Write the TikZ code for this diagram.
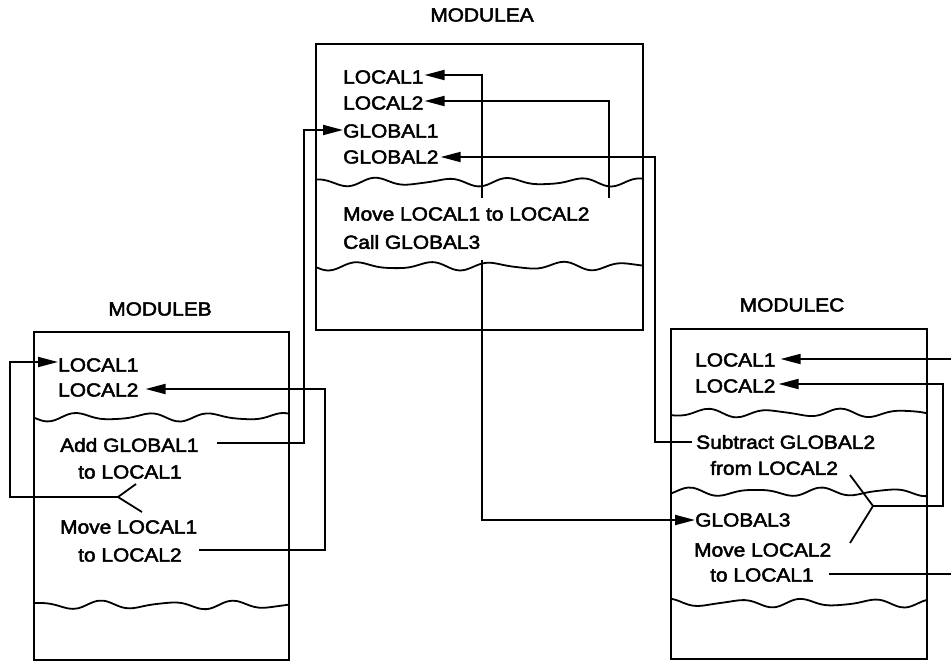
\documentclass[tikz,border=0pt]{standalone}
\usepackage{fontspec}
\setmainfont{Liberation Sans}[FakeStretch=1.1,FakeBold=2.5]
\usetikzlibrary{arrows.meta}
\tikzset{
  lbl/.style={anchor=west,inner sep=0pt,font=\fontsize{19}{22}\selectfont},
  ttl/.style={inner sep=0pt,font=\fontsize{19}{22}\selectfont},
  modbox/.style={draw,line width=1.8pt},
  wavyln/.style={line width=1.8pt},
  conn/.style={line width=1.8pt},
  arr/.style={conn,-{Triangle[length=20pt,width=10pt]}}
}
\newcommand\wavyrow[4]{\draw[wavyln] plot[smooth,domain=#1:#2,samples=60] (\x,{#3+3.3*sin(5.4*\x+#4)+1.2*sin(8.3*\x+2*#4)});}
\begin{document}
\begin{tikzpicture}[x=1pt,y=-1pt]
\useasboundingbox (0,0) rectangle (951,662);
% ---------------- MODULEA ----------------
\node[ttl] (tA) at (482,15) {MODULEA};
\draw[modbox] (316,44) rectangle (643,330);
\wavyrow{316}{643}{182}{30}
\wavyrow{316}{643}{266}{120}
\node[lbl] (a1) at (343,77) {LOCAL1};
\node[lbl] (a2) at (343,103) {LOCAL2};
\node[lbl] (a3) at (343,131) {GLOBAL1};
\node[lbl] (a4) at (343,157) {GLOBAL2};
\node[lbl] (a5) at (343,214) {Move LOCAL1 to LOCAL2};
\node[lbl] (a6) at (343,242) {Call GLOBAL3};
% ---------------- MODULEB ----------------
\node[ttl] (tB) at (160,309) {MODULEB};
\draw[modbox] (34,332) rectangle (289,660);
\wavyrow{34}{289}{417}{200}
\wavyrow{34}{289}{605}{80}
\node[lbl] (b1) at (58,365) {LOCAL1};
\node[lbl] (b2) at (58,390) {LOCAL2};
\node[lbl] (b3) at (60,445) {Add GLOBAL1};
\node[lbl] (b4) at (78,472) {to LOCAL1};
\node[lbl] (b5) at (60,527) {Move LOCAL1};
\node[lbl] (b6) at (78,555) {to LOCAL2};
% ---------------- MODULEC ----------------
\node[ttl] (tC) at (792,305) {MODULEC};
\draw[modbox] (671,329) rectangle (927,659);
\wavyrow{671}{927}{413}{60}
\wavyrow{671}{927}{492}{150}
\wavyrow{671}{927}{603}{250}
\node[lbl] (c1) at (695,360) {LOCAL1};
\node[lbl] (c2) at (695,386) {LOCAL2};
\node[lbl] (c3) at (696,442) {Subtract GLOBAL2};
\node[lbl] (c4) at (710,468) {from LOCAL2};
\node[lbl] (c5) at (695,520) {GLOBAL3};
\node[lbl] (c6) at (694,550) {Move LOCAL2};
\node[lbl] (c7) at (710,575) {to LOCAL1};
% ---------------- coordinates ----------------
\coordinate (sA1) at (482,198);
\coordinate (sA2) at (609,198);
\coordinate (sA3) at (482,260);
\coordinate (vG1) at (304,300);
\coordinate (vG2) at (655,300);
\coordinate (fB) at (118,497);
\coordinate (fBu) at (136,484);
\coordinate (fBl) at (142,512);
\coordinate (vB1) at (10,430);
\coordinate (vB2) at (325,470);
\coordinate (fC) at (873,506);
\coordinate (fCu) at (850,475);
\coordinate (fCl) at (850,543);
\coordinate (vC2) at (943,450);
\coordinate (eR1) at (951,359);
\coordinate (eR2) at (951,574);
% ---------------- connectors ----------------
\draw[arr] (sA1) |- ([xshift=1pt,yshift=2pt]a1.east);
\draw[arr] (sA2) |- ([xshift=1pt,yshift=2pt]a2.east);
\draw[arr] ([xshift=18pt,yshift=2pt]b3.east) -| (vG1) |- ([yshift=1pt]a3.west);
\draw[arr] ([xshift=-4pt]c3.west) -| (vG2) |- ([xshift=2pt]a4.east);
\draw[arr] (sA3) |- (c5.west);
% MODULEB internal
\draw[conn] (fBu) -- (fB) -- (fBl);
\draw[arr] (fB) -| (vB1) |- ([yshift=3pt]b1.west);
\draw[arr] ([xshift=17pt,yshift=5pt]b6.east) -| (vB2) |- ([xshift=7pt,yshift=1pt]b2.east);
% MODULEC internal
\draw[conn] (fCu) -- (fC) -- (fCl);
\draw[arr] (fC) -| (vC2) |- ([xshift=3pt,yshift=2pt]c2.east);
\draw[arr] (eR1) -- ([xshift=5pt]c1.east |- eR1);
\draw[conn] ([xshift=15pt]c7.east |- eR2) -- (eR2);
\end{tikzpicture}
\end{document}
